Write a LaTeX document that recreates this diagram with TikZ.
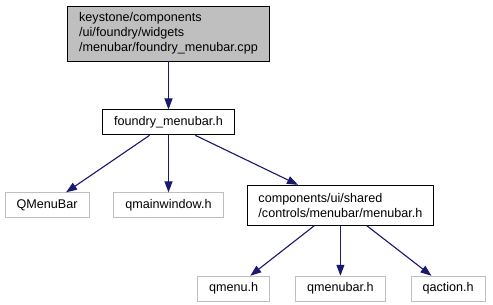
\documentclass[tikz,border=0pt]{standalone}
\usepackage{fontspec}
\setmainfont{Liberation Sans}
\usetikzlibrary{positioning,arrows.meta}
\definecolor{depblue}{HTML}{191970}
\definecolor{boxgray}{HTML}{BFBFBF}

\begin{document}
\begin{tikzpicture}[
  font=\fontsize{12.6}{15}\selectfont,
  box/.style={draw, align=left, inner xsep=11.5pt, inner ysep=0pt, minimum height=25pt, line width=0.9pt},
  src/.style={box, fill=boxgray, minimum height=55pt},
  hdrbox/.style={box, fill=white},
  ext/.style={box, draw=boxgray, fill=white},
  inc/.style={-{Triangle[length=11pt, width=8pt]}, draw=depblue, fill=depblue, line width=1.1pt}
]
  \useasboundingbox (0,0) rectangle (493pt,-305pt);
  \node[src] (cpp) at (168.5pt,-33.5pt) {keystone/components\\/ui/foundry/widgets\\/menubar/foundry\_menubar.cpp};
  \node[hdrbox, below=48pt of cpp] (hdr) {foundry\_menubar.h};
  \node[ext, below=57pt of hdr] (qmain) {qmainwindow.h};
  \node[ext, left=24pt of qmain] (qmbar) {QMenuBar};
  \node[hdrbox, minimum height=40pt, right=23pt of qmain] (mb) {components/ui/shared\\/controls/menubar/menubar.h};
  \node[ext, below=50pt of mb] (qmb) {qmenubar.h};
  \node[ext, left=25pt of qmb] (qmenu) {qmenu.h};
  \node[ext, right=25pt of qmb] (qact) {qaction.h};
  \draw[inc] (cpp) -- (hdr);
  \draw[inc] (hdr) -- (qmbar);
  \draw[inc] (hdr) -- (qmain);
  \draw[inc] (hdr) -- (mb);
  \draw[inc] (mb) -- (qmenu);
  \draw[inc] (mb) -- (qmb);
  \draw[inc] (mb) -- (qact);
\end{tikzpicture}
\end{document}
